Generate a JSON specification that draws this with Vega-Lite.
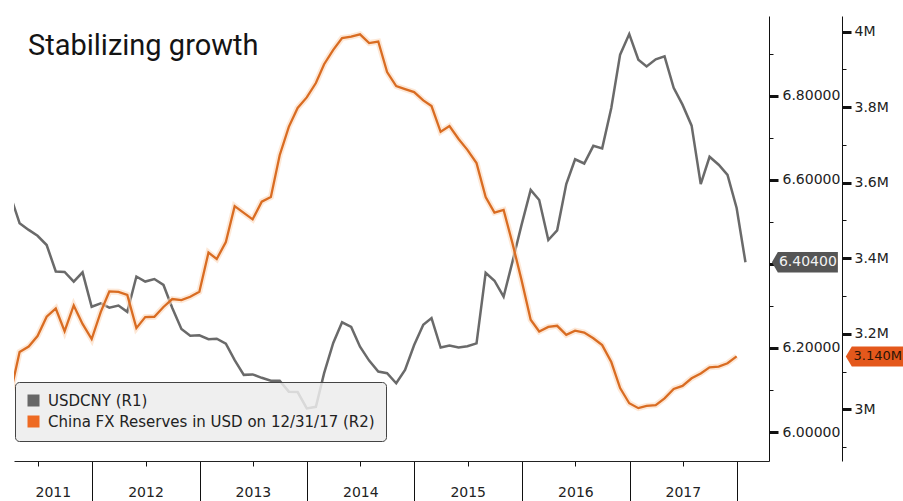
{
  "$schema": "https://vega.github.io/schema/vega-lite/v6.json",
  "width": 755,
  "height": 445,
  "autosize": {"type": "none"},
  "padding": {"left": 14, "top": 16, "right": 134, "bottom": 40},
  "background": "white",
  "config": {
    "view": {"stroke": null},
    "font": "DejaVu Sans",
    "axis": {"labelFont": "DejaVu Sans", "domainColor": "#111", "tickColor": "#111", "labelColor": "#222", "grid": false}
  },
  "title": {
    "text": "Stabilizing growth",
    "anchor": "start",
    "frame": "group",
    "orient": "top",
    "offset": -68,
    "baseline": "alphabetic",
    "dx": 14,
    "font": "Roboto",
    "fontSize": 29,
    "fontWeight": "normal",
    "color": "#141414"
  },
  "datasets": {
    "usdcny": [
      {"date": "2011-03-31", "value": 6.560},
      {"date": "2011-04-30", "value": 6.497},
      {"date": "2011-05-31", "value": 6.481},
      {"date": "2011-06-30", "value": 6.467},
      {"date": "2011-07-31", "value": 6.445},
      {"date": "2011-08-31", "value": 6.382},
      {"date": "2011-09-30", "value": 6.381},
      {"date": "2011-10-31", "value": 6.358},
      {"date": "2011-11-30", "value": 6.380},
      {"date": "2011-12-31", "value": 6.298},
      {"date": "2012-01-31", "value": 6.306},
      {"date": "2012-02-29", "value": 6.296},
      {"date": "2012-03-31", "value": 6.301},
      {"date": "2012-04-30", "value": 6.286},
      {"date": "2012-05-31", "value": 6.370},
      {"date": "2012-06-30", "value": 6.358},
      {"date": "2012-07-31", "value": 6.364},
      {"date": "2012-08-31", "value": 6.350},
      {"date": "2012-09-30", "value": 6.295},
      {"date": "2012-10-31", "value": 6.245},
      {"date": "2012-11-30", "value": 6.229},
      {"date": "2012-12-31", "value": 6.230},
      {"date": "2013-01-31", "value": 6.221},
      {"date": "2013-02-28", "value": 6.222},
      {"date": "2013-03-31", "value": 6.210},
      {"date": "2013-04-30", "value": 6.171},
      {"date": "2013-05-31", "value": 6.136},
      {"date": "2013-06-30", "value": 6.137},
      {"date": "2013-07-31", "value": 6.129},
      {"date": "2013-08-31", "value": 6.122},
      {"date": "2013-09-30", "value": 6.122},
      {"date": "2013-10-31", "value": 6.096},
      {"date": "2013-11-30", "value": 6.095},
      {"date": "2013-12-31", "value": 6.056},
      {"date": "2014-01-31", "value": 6.060},
      {"date": "2014-02-28", "value": 6.140},
      {"date": "2014-03-31", "value": 6.212},
      {"date": "2014-04-30", "value": 6.261},
      {"date": "2014-05-31", "value": 6.250},
      {"date": "2014-06-30", "value": 6.203},
      {"date": "2014-07-31", "value": 6.170},
      {"date": "2014-08-31", "value": 6.144},
      {"date": "2014-09-30", "value": 6.140},
      {"date": "2014-10-31", "value": 6.116},
      {"date": "2014-11-30", "value": 6.148},
      {"date": "2014-12-31", "value": 6.207},
      {"date": "2015-01-31", "value": 6.255},
      {"date": "2015-02-28", "value": 6.271},
      {"date": "2015-03-31", "value": 6.201},
      {"date": "2015-04-30", "value": 6.206},
      {"date": "2015-05-31", "value": 6.201},
      {"date": "2015-06-30", "value": 6.204},
      {"date": "2015-07-31", "value": 6.211},
      {"date": "2015-08-31", "value": 6.379},
      {"date": "2015-09-30", "value": 6.360},
      {"date": "2015-10-31", "value": 6.322},
      {"date": "2015-11-30", "value": 6.405},
      {"date": "2015-12-31", "value": 6.493},
      {"date": "2016-01-31", "value": 6.576},
      {"date": "2016-02-29", "value": 6.552},
      {"date": "2016-03-31", "value": 6.457},
      {"date": "2016-04-30", "value": 6.480},
      {"date": "2016-05-31", "value": 6.590},
      {"date": "2016-06-30", "value": 6.649},
      {"date": "2016-07-31", "value": 6.639},
      {"date": "2016-08-31", "value": 6.681},
      {"date": "2016-09-30", "value": 6.675},
      {"date": "2016-10-31", "value": 6.771},
      {"date": "2016-11-30", "value": 6.898},
      {"date": "2016-12-31", "value": 6.947},
      {"date": "2017-01-31", "value": 6.886},
      {"date": "2017-02-28", "value": 6.870},
      {"date": "2017-03-31", "value": 6.887},
      {"date": "2017-04-30", "value": 6.894},
      {"date": "2017-05-31", "value": 6.819},
      {"date": "2017-06-30", "value": 6.779},
      {"date": "2017-07-31", "value": 6.729},
      {"date": "2017-08-31", "value": 6.590},
      {"date": "2017-09-30", "value": 6.655},
      {"date": "2017-10-31", "value": 6.636},
      {"date": "2017-11-30", "value": 6.612},
      {"date": "2017-12-31", "value": 6.533},
      {"date": "2018-01-30", "value": 6.404}
    ],
    "reserves": [
      {"date": "2011-03-31", "value": 3045000},
      {"date": "2011-04-30", "value": 3152000},
      {"date": "2011-05-31", "value": 3166000},
      {"date": "2011-06-30", "value": 3194000},
      {"date": "2011-07-31", "value": 3245000},
      {"date": "2011-08-31", "value": 3267000},
      {"date": "2011-09-30", "value": 3207000},
      {"date": "2011-10-31", "value": 3275000},
      {"date": "2011-11-30", "value": 3226000},
      {"date": "2011-12-31", "value": 3186000},
      {"date": "2012-01-31", "value": 3258000},
      {"date": "2012-02-29", "value": 3312000},
      {"date": "2012-03-31", "value": 3311000},
      {"date": "2012-04-30", "value": 3303000},
      {"date": "2012-05-31", "value": 3215000},
      {"date": "2012-06-30", "value": 3244000},
      {"date": "2012-07-31", "value": 3245000},
      {"date": "2012-08-31", "value": 3271000},
      {"date": "2012-09-30", "value": 3292000},
      {"date": "2012-10-31", "value": 3289000},
      {"date": "2012-11-30", "value": 3298000},
      {"date": "2012-12-31", "value": 3311000},
      {"date": "2013-01-31", "value": 3415000},
      {"date": "2013-02-28", "value": 3398000},
      {"date": "2013-03-31", "value": 3443000},
      {"date": "2013-04-30", "value": 3538000},
      {"date": "2013-05-31", "value": 3520000},
      {"date": "2013-06-30", "value": 3503000},
      {"date": "2013-07-31", "value": 3550000},
      {"date": "2013-08-31", "value": 3562000},
      {"date": "2013-09-30", "value": 3673000},
      {"date": "2013-10-31", "value": 3748000},
      {"date": "2013-11-30", "value": 3798000},
      {"date": "2013-12-31", "value": 3826000},
      {"date": "2014-01-31", "value": 3864000},
      {"date": "2014-02-28", "value": 3914000},
      {"date": "2014-03-31", "value": 3952000},
      {"date": "2014-04-30", "value": 3983000},
      {"date": "2014-05-31", "value": 3987000},
      {"date": "2014-06-30", "value": 3993000},
      {"date": "2014-07-31", "value": 3970000},
      {"date": "2014-08-31", "value": 3974000},
      {"date": "2014-09-30", "value": 3893000},
      {"date": "2014-10-31", "value": 3856000},
      {"date": "2014-11-30", "value": 3848000},
      {"date": "2014-12-31", "value": 3840000},
      {"date": "2015-01-31", "value": 3818000},
      {"date": "2015-02-28", "value": 3803000},
      {"date": "2015-03-31", "value": 3735000},
      {"date": "2015-04-30", "value": 3750000},
      {"date": "2015-05-31", "value": 3716000},
      {"date": "2015-06-30", "value": 3687000},
      {"date": "2015-07-31", "value": 3652000},
      {"date": "2015-08-31", "value": 3562000},
      {"date": "2015-09-30", "value": 3521000},
      {"date": "2015-10-31", "value": 3528000},
      {"date": "2015-11-30", "value": 3440000},
      {"date": "2015-12-31", "value": 3342000},
      {"date": "2016-01-31", "value": 3237000},
      {"date": "2016-02-29", "value": 3206000},
      {"date": "2016-03-31", "value": 3218000},
      {"date": "2016-04-30", "value": 3221000},
      {"date": "2016-05-31", "value": 3197000},
      {"date": "2016-06-30", "value": 3208000},
      {"date": "2016-07-31", "value": 3203000},
      {"date": "2016-08-31", "value": 3188000},
      {"date": "2016-09-30", "value": 3170000},
      {"date": "2016-10-31", "value": 3125000},
      {"date": "2016-11-30", "value": 3056000},
      {"date": "2016-12-31", "value": 3016000},
      {"date": "2017-01-31", "value": 3003000},
      {"date": "2017-02-28", "value": 3009000},
      {"date": "2017-03-31", "value": 3011000},
      {"date": "2017-04-30", "value": 3029000},
      {"date": "2017-05-31", "value": 3054000},
      {"date": "2017-06-30", "value": 3062000},
      {"date": "2017-07-31", "value": 3082000},
      {"date": "2017-08-31", "value": 3095000},
      {"date": "2017-09-30", "value": 3111000},
      {"date": "2017-10-31", "value": 3113000},
      {"date": "2017-11-30", "value": 3122000},
      {"date": "2017-12-31", "value": 3140000}
    ]
  },
  "layer": [
    {
      "data": {"name": "usdcny"},
      "encoding": {
        "y": {
          "field": "value",
          "type": "quantitative",
          "scale": {"domain": [5.931, 6.990], "nice": false, "zero": false},
          "axis": {
            "orient": "right",
            "title": null,
            "values": [6.0, 6.1, 6.2, 6.3, 6.4, 6.5, 6.6, 6.7, 6.8, 6.9],
            "labelExpr": "(round(datum.value*10) % 2 == 0 && round(datum.value*10) != 64) ? format(datum.value, '.5f') : ''",
            "tickSize": {"condition": {"test": "round(datum.value*10) % 2 == 0", "value": 9}, "value": 4},
            "tickWidth": {"condition": {"test": "round(datum.value*10) % 2 == 0", "value": 3}, "value": 1},
            "labelPadding": 4,
            "labelFontSize": 14,
            "labelBaseline": "middle",
            "labelFlush": false,
            "labelOverlap": false
          }
        }
      },
      "layer": [
        {
          "mark": {"type": "line", "strokeWidth": 2.5, "clip": true},
          "encoding": {
            "x": {
              "field": "date",
              "type": "temporal",
              "scale": {"domain": [{"year": 2011, "month": 4, "date": 11}, {"year": 2018, "month": 4, "date": 20}]},
              "axis": {
                "orient": "bottom",
                "title": null,
                "values": [
                  {"year": 2011, "month": 7, "date": 1}, {"year": 2011, "month": 10, "date": 1},
                  {"year": 2012, "month": 1, "date": 1}, {"year": 2012, "month": 4, "date": 1}, {"year": 2012, "month": 7, "date": 1}, {"year": 2012, "month": 10, "date": 1},
                  {"year": 2013, "month": 1, "date": 1}, {"year": 2013, "month": 4, "date": 1}, {"year": 2013, "month": 7, "date": 1}, {"year": 2013, "month": 10, "date": 1},
                  {"year": 2014, "month": 1, "date": 1}, {"year": 2014, "month": 4, "date": 1}, {"year": 2014, "month": 7, "date": 1}, {"year": 2014, "month": 10, "date": 1},
                  {"year": 2015, "month": 1, "date": 1}, {"year": 2015, "month": 4, "date": 1}, {"year": 2015, "month": 7, "date": 1}, {"year": 2015, "month": 10, "date": 1},
                  {"year": 2016, "month": 1, "date": 1}, {"year": 2016, "month": 4, "date": 1}, {"year": 2016, "month": 7, "date": 1}, {"year": 2016, "month": 10, "date": 1},
                  {"year": 2017, "month": 1, "date": 1}, {"year": 2017, "month": 4, "date": 1}, {"year": 2017, "month": 7, "date": 1}, {"year": 2017, "month": 10, "date": 1},
                  {"year": 2018, "month": 1, "date": 1}, {"year": 2018, "month": 4, "date": 1}
                ],
                "labelExpr": "month(datum.value) == 6 ? timeFormat(datum.value, '%Y') : ''",
                "tickSize": {"condition": {"test": "month(datum.value) == 0", "value": 40}, "value": 5},
                "labelOffset": {"condition": {"test": "year(datum.value) == 2011", "value": 15}, "value": 0},
                "labelPadding": 19,
                "labelFontSize": 14,
                "labelFlush": false,
                "labelOverlap": false,
                "domainColor": "#222"
              }
            },
            "color": {
              "datum": "USDCNY (R1)",
              "type": "nominal",
              "scale": {"domain": ["USDCNY (R1)", "China FX Reserves in USD on 12/31/17 (R2)"], "range": ["#6a6a6a", "#d96c22"]},
              "legend": {
                "orient": "none",
                "legendX": 1,
                "legendY": 366,
                "direction": "vertical",
                "title": null,
                "fillColor": "rgba(236,236,236,0.85)",
                "strokeColor": "#444",
                "cornerRadius": 4,
                "padding": 11,
                "symbolType": "square",
                "symbolSize": 144,
                "symbolStrokeWidth": 0,
                "labelFont": "DejaVu Sans",
                "labelFontSize": 15,
                "labelColor": "#222",
                "labelOffset": 7,
                "labelLimit": 500,
                "rowPadding": 5,
                "encode": {
                  "symbols": {
                    "update": {
                      "fill": {"signal": "(datum.value === 'USDCNY (R1)' || datum.index === 0) ? '#676767' : '#ee6a22'"},
                      "strokeWidth": {"value": 0}
                    }
                  }
                }
              }
            }
          }
        },
        {
          "transform": [{"filter": {"field": "date", "timeUnit": "utcyearmonthdate", "equal": {"year": 2018, "month": 1, "date": 30, "utc": true}}}],
          "mark": {"type": "point", "shape": "M -1 0 L -0.82 -0.31 L 1 -0.31 L 1 0.31 L -0.82 0.31 Z", "filled": true, "size": 4356, "color": "#555555", "opacity": 1, "strokeWidth": 0},
          "encoding": {
            "x": {"datum": {"year": 2018, "month": 8, "date": 20}, "type": "temporal",
                  "scale": {"domain": [{"year": 2011, "month": 4, "date": 11}, {"year": 2018, "month": 4, "date": 20}]}}
          }
        },
        {
          "transform": [{"filter": {"field": "date", "timeUnit": "utcyearmonthdate", "equal": {"year": 2018, "month": 1, "date": 30, "utc": true}}}],
          "mark": {"type": "text", "font": "DejaVu Sans", "fontSize": 14, "color": "#f2f2f2", "dx": 3, "align": "center", "baseline": "middle"},
          "encoding": {
            "x": {"datum": {"year": 2018, "month": 8, "date": 20}, "type": "temporal",
                  "scale": {"domain": [{"year": 2011, "month": 4, "date": 11}, {"year": 2018, "month": 4, "date": 20}]}},
            "text": {"field": "value", "type": "quantitative", "format": ".5f"}
          }
        }
      ]
    },
    {
      "data": {"name": "reserves"},
      "encoding": {
        "y": {
          "field": "value",
          "type": "quantitative",
          "scale": {"domain": [2863000, 4041600], "nice": false, "zero": false},
          "axis": {
            "orient": "right",
            "offset": 73,
            "title": null,
            "values": [2900000, 3000000, 3100000, 3200000, 3300000, 3400000, 3500000, 3600000, 3700000, 3800000, 3900000, 4000000],
            "labelExpr": "round(datum.value/100000) % 2 == 0 ? format(datum.value/1000000, '~g') + 'M' : ''",
            "tickSize": {"condition": {"test": "round(datum.value/100000) % 2 == 0", "value": 9}, "value": 4},
            "tickWidth": {"condition": {"test": "round(datum.value/100000) % 2 == 0", "value": 3}, "value": 1},
            "labelPadding": 3,
            "labelFontSize": 14,
            "labelBaseline": "middle",
            "labelFlush": false,
            "labelOverlap": false
          }
        }
      },
      "layer": [
        {
          "mark": {"type": "line", "strokeWidth": 6, "color": "#fbd9bd", "opacity": 0.6, "clip": true},
          "encoding": {
            "x": {"field": "date", "type": "temporal",
                  "scale": {"domain": [{"year": 2011, "month": 4, "date": 11}, {"year": 2018, "month": 4, "date": 20}]}}
          }
        },
        {
          "mark": {"type": "line", "strokeWidth": 2.3, "clip": true},
          "encoding": {
            "x": {"field": "date", "type": "temporal",
                  "scale": {"domain": [{"year": 2011, "month": 4, "date": 11}, {"year": 2018, "month": 4, "date": 20}]}},
            "color": {"datum": "China FX Reserves in USD on 12/31/17 (R2)", "type": "nominal"}
          }
        },
        {
          "transform": [{"filter": {"field": "date", "timeUnit": "utcyearmonthdate", "equal": {"year": 2017, "month": 12, "date": 31, "utc": true}}}],
          "mark": {"type": "point", "shape": "M -1 0 L -0.8 -0.333 L 1 -0.333 L 1 0.333 L -0.8 0.333 Z", "filled": true, "size": 3600, "color": "#e4581c", "opacity": 1, "strokeWidth": 0},
          "encoding": {
            "x": {"datum": {"year": 2019, "month": 4, "date": 18}, "type": "temporal",
                  "scale": {"domain": [{"year": 2011, "month": 4, "date": 11}, {"year": 2018, "month": 4, "date": 20}]}}
          }
        },
        {
          "transform": [{"filter": {"field": "date", "timeUnit": "utcyearmonthdate", "equal": {"year": 2017, "month": 12, "date": 31, "utc": true}}}],
          "mark": {"type": "text", "font": "DejaVu Sans", "fontSize": 13, "color": "#2a1406", "dx": 2, "align": "center", "baseline": "middle"},
          "encoding": {
            "x": {"datum": {"year": 2019, "month": 4, "date": 18}, "type": "temporal",
                  "scale": {"domain": [{"year": 2011, "month": 4, "date": 11}, {"year": 2018, "month": 4, "date": 20}]}},
            "text": {"field": "value", "type": "quantitative", "format": ".4s"}
          }
        }
      ]
    }
  ],
  "resolve": {"scale": {"y": "independent"}}
}
